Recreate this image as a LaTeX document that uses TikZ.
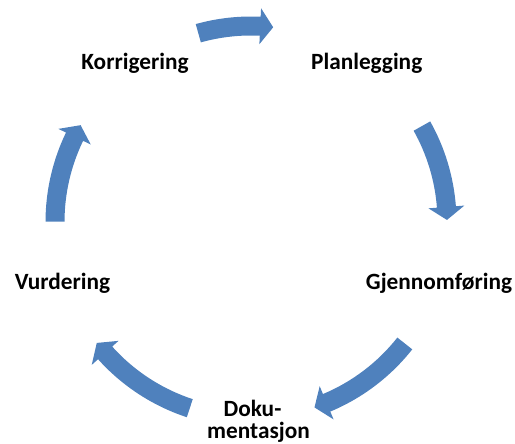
\documentclass[tikz,border=0pt]{standalone}
\usepackage{fontspec}
\setmainfont{Carlito}
\definecolor{arrowblue}{HTML}{4F81BD}
\begin{document}
\begin{tikzpicture}[x=1pt,y=1pt,
  lbl/.style={font=\bfseries\fontsize{23.3}{21.7}\selectfont, align=center, inner sep=0pt, text=black, anchor=base},
  cyc/.style={fill=arrowblue, draw=none}]
\useasboundingbox (0,0) rectangle (515,444);
\coordinate (C) at (251,222);
\node[lbl] (plan) at (366.7,374) {Planlegging};
\node[lbl] (gjen) at (439,154) {Gjennomføring};
\node[lbl] (doku) at (258.5,5.7) {Doku-\hspace*{12pt}\\mentasjon};
\node[lbl] (vurd) at (62.5,154) {Vurdering};
\node[lbl] (korr) at (135,374) {Korrigering};
\foreach \a/\t in {105.6/83.5, 29.3/0.6, -38.3/-71.1, -108.2/-141.9, 179.9/150.4} {
  \pgfmathsetmacro\b{\t+3.8}
  \fill[cyc, shift={(C)}] (\a:205.5pt) arc[start angle=\a, end angle=\b, radius=205.5pt]
    -- (\b:214pt) -- (\t:196pt) -- (\b:178pt) -- (\b:186.5pt)
    arc[start angle=\b, end angle=\a, radius=186.5pt] -- cycle;
}
\end{tikzpicture}
\end{document}
